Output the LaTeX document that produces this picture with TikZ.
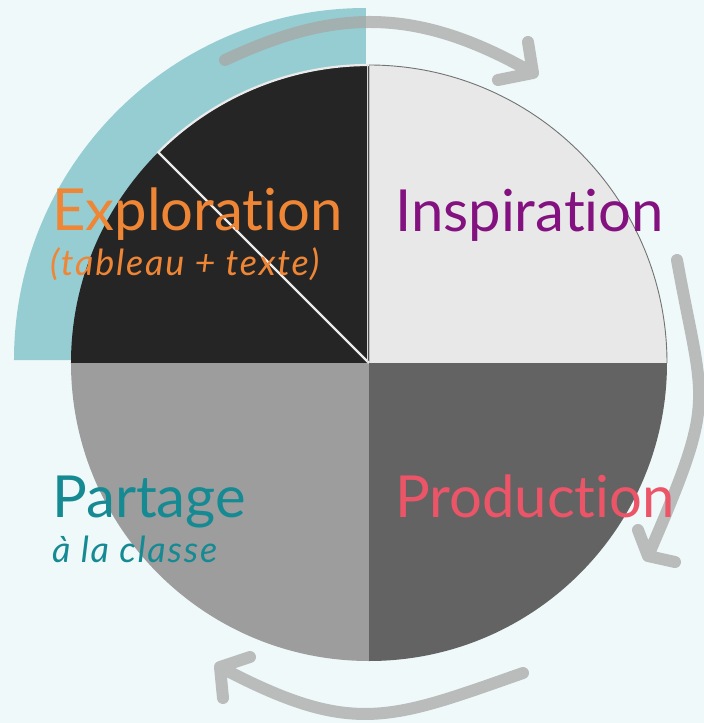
\documentclass[tikz,border=0pt]{standalone}
\usepackage{fontspec}
\setmainfont{Lato}[RawFeature={-liga;-dlig;-clig}]
\newfontfamily\subfont{Lato}[Ligatures=NoCommon, LetterSpace=5, RawFeature={-liga;-dlig;-clig}]
\definecolor{bg}{HTML}{EFF9F9}
\definecolor{teal1}{HTML}{96CDD3}
\definecolor{qtl}{HTML}{252525}
\definecolor{qtr}{HTML}{E8E8E8}
\definecolor{qbr}{HTML}{636363}
\definecolor{qbl}{HTML}{9D9D9D}
\definecolor{arrowgray}{HTML}{A7A8A5}
\definecolor{cexp}{HTML}{EF8636}
\definecolor{cins}{HTML}{831180}
\definecolor{cpro}{HTML}{EC5468}
\definecolor{cpar}{HTML}{168A93}
\tikzset{
  cyclearrow/.style={draw=arrowgray, line width=12pt, line cap=round, line join=round, draw opacity=0.75},
  bigtitle/.style={anchor=base west, inner sep=0pt, font=\fontsize{58}{60}\selectfont},
  subtitle/.style={anchor=base west, inner sep=0pt, font=\subfont\fontsize{36}{38}\selectfont\itshape},
}
\begin{document}
\begin{tikzpicture}[x=1pt,y=1pt]
\fill[bg] (-369,-360) rectangle (335,363);
\useasboundingbox (-369,-360) rectangle (335,363);
\coordinate (C) at (0,0);
% teal ring
\fill[teal1] (-3,3) -- (-3,355) arc[start angle=90,end angle=180,radius=352] -- cycle;
% quarters
\fill[qtl] (C) -- (0,298) arc[start angle=90,end angle=180,radius=298] -- cycle;
\fill[qtr] (C) -- (298,0) arc[start angle=0,end angle=90,radius=298] -- cycle;
\fill[qbr] (C) -- (0,-298) arc[start angle=-90,end angle=0,radius=298] -- cycle;
\fill[qbl] (C) -- (-298,0) arc[start angle=180,end angle=270,radius=298] -- cycle;
\draw[gray!90!black, line width=0.9pt] (298,0) arc[start angle=0,end angle=90,radius=298] -- (0,0);
\draw[white!92!black, line width=2.2pt] (C) -- (135:298) arc[start angle=135,end angle=90,radius=298];
\draw[white!85!black, line width=0.8pt] (-1.2,0) -- (-1.2,298);
% arrows
\coordinate (a1s) at (-144,303);
\coordinate (a1t) at (164,290);
\coordinate (a1u) at (159,321);
\coordinate (a1l) at (129,283);
\draw[cyclearrow] (a1s) .. controls (-37.7,352.6) and (44.5,359) .. (a1t)
  (a1u) -- (a1t) -- (a1l);
\coordinate (a2s) at (308,103);
\coordinate (a2t) at (279,-193);
\coordinate (a2u) at (269,-167);
\coordinate (a2r) at (306,-199);
\draw[cyclearrow] (a2s) .. controls (335,-46) and (349,-31) .. (a2t)
  (a2u) -- (a2t) -- (a2r);
\coordinate (a3s) at (154,-310);
\coordinate (a3t) at (-149,-304);
\coordinate (a3u) at (-119,-294);
\coordinate (a3d) at (-146,-335);
\draw[cyclearrow] (a3s) .. controls (20,-357) and (-16.4,-374) .. (a3t)
  (a3u) -- (a3t) -- (a3d);
% texts
\node[bigtitle, text=cexp] (exp) at (-317,132) {Exploration};
\node[subtitle, text=cexp] (expsub) at (-319,87) {(tableau + texte)};
\node[bigtitle, text=cins] (ins) at (26,131) {Inspiration};
\node[bigtitle, text=cpro] (pro) at (26,-154) {Production};
\node[bigtitle, text=cpar] (par) at (-317,-154) {Partage};
\node[subtitle, text=cpar] (parsub) at (-317,-199) {à la classe};
\end{tikzpicture}
\end{document}
